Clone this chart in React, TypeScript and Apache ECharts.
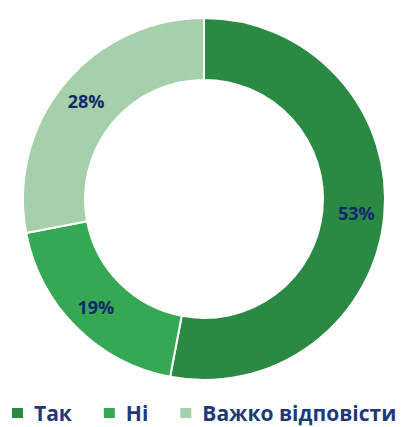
import React, { useEffect, useRef } from "react";
import * as echarts from "echarts";

const categories = ["Так", "Ні", "Важко відповісти"];
const values = [53, 19, 28];
const colors = ["#2a8a44", "#34a853", "#a6cfab"];

export default function App() {
  const ref = useRef<HTMLDivElement>(null);
  useEffect(() => {
    document.body.style.margin = "0";
    const chart = echarts.init(ref.current!, null, { renderer: "svg" });
    chart.setOption({
      animation: false,
      legend: {
        data: categories,
        left: 10,
        top: 402,
        width: 400,
        padding: 0,
        itemWidth: 13,
        itemHeight: 12,
        itemGap: 30,
        icon: "rect",
        textStyle: {
          fontFamily: "Open Sans",
          fontWeight: "bold",
          fontSize: 21,
          lineHeight: 22,
          color: "#1d3a78",
          padding: [0, 0, 0, 5],
        },
      },
      series: [
        {
          type: "pie",
          center: [204, 199],
          radius: [119, 181],
          startAngle: 90,
          clockwise: true,
          avoidLabelOverlap: false,
          itemStyle: { borderColor: "#ffffff", borderWidth: 2 },
          label: {
            show: true,
            position: "inside",
            formatter: "{c}%",
            fontFamily: "Open Sans",
            fontWeight: "bold",
            fontSize: 18,
            color: "#14286b",
          },
          labelLine: { show: false },
          emphasis: { disabled: true },
          data: categories.map((name, i) => ({
            name,
            value: values[i],
            itemStyle: { color: colors[i] },
          })),
        },
      ],
    });
    return () => chart.dispose();
  }, []);
  return <div ref={ref} style={{ width: 410, height: 427 }} />;
}
